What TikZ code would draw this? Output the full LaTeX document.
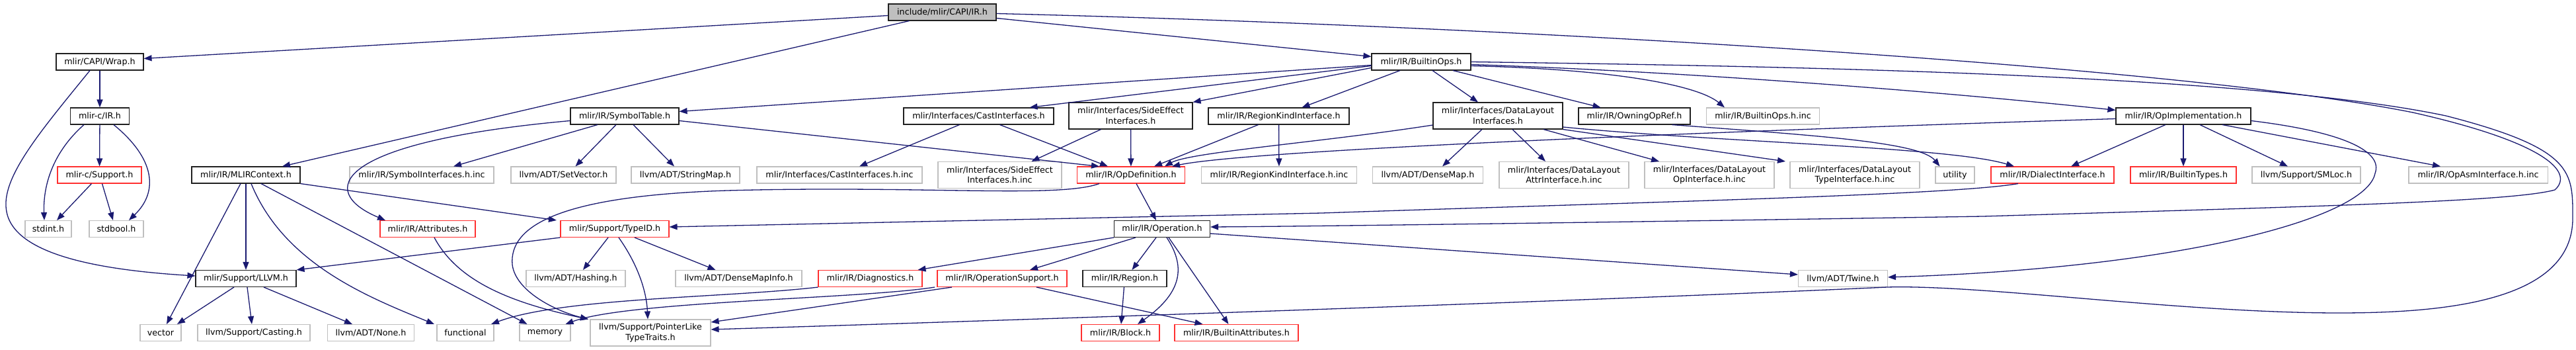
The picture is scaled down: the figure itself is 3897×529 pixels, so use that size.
\documentclass[tikz,border=0pt]{standalone}
\usepackage{fontspec}
\setmainfont{DejaVu Sans}
\usetikzlibrary{arrows.meta}
\definecolor{edgec}{HTML}{191970}
\definecolor{grayb}{HTML}{BFBFBF}
\definecolor{redb}{HTML}{FF3030}
\definecolor{rootf}{HTML}{BFBFBF}
\definecolor{blkb}{HTML}{202020}
\tikzset{
  nd/.style={draw, rectangle, line width=1.1pt, inner sep=0pt, minimum height=25pt, fill=white,
    font=\fontsize{12.7}{15.5}\selectfont, text=black, align=center},
  two/.style={minimum height=40pt},
  blk/.style={nd, draw=blkb},
  red/.style={nd, draw=redb},
  ext/.style={nd, draw=grayb},
  e/.style={draw=edgec, line width=1.3pt, -{Triangle[length=12pt,width=9pt]}, fill=none},
}
\begin{document}
\begin{tikzpicture}[x=1pt,y=-1pt]
\fill[white] (0,0) rectangle (3897,529);
\useasboundingbox (0,0) rectangle (3897,529);
% nodes
\node[blk, fill=rootf, minimum width=163pt] (root) at (1425.5,18.5) {include/mlir/CAPI/IR.h};
\node[blk, minimum width=132pt] (wrap) at (151,93.5) {mlir/CAPI/Wrap.h};
\node[blk, minimum width=150pt] (builtinops) at (2150,93.5) {mlir/IR/BuiltinOps.h};
\node[blk, minimum width=89pt] (cir) at (151,175.5) {mlir-c/IR.h};
\node[blk, minimum width=164pt] (symtab) at (945,175.5) {mlir/IR/SymbolTable.h};
\node[blk, minimum width=227pt] (castif) at (1480.5,175.5) {mlir/Interfaces/CastInterfaces.h};
\node[blk, two, minimum width=187pt] (sideeff) at (1710.5,175) {mlir/Interfaces/SideEffect\\Interfaces.h};
\node[blk, minimum width=213pt] (regkind) at (1934.5,175.5) {mlir/IR/RegionKindInterface.h};
\node[blk, two, minimum width=196pt] (dlif) at (2266,175) {mlir/Interfaces/DataLayout\\Interfaces.h};
\node[blk, minimum width=169pt] (owning) at (2472.5,175.5) {mlir/IR/OwningOpRef.h};
\node[ext, minimum width=171pt] (boinc) at (2667,175.5) {mlir/IR/BuiltinOps.h.inc};
\node[blk, minimum width=204pt] (opimpl) at (3303,175.5) {mlir/IR/OpImplementation.h};
\node[red, minimum width=127pt] (csupport) at (150.5,264.5) {mlir-c/Support.h};
\node[blk, minimum width=164pt] (mlirctx) at (372,264.5) {mlir/IR/MLIRContext.h};
\node[ext, minimum width=218pt] (symifinc) at (638,264.5) {mlir/IR/SymbolInterfaces.h.inc};
\node[ext, minimum width=159pt] (setvector) at (852.5,264.5) {llvm/ADT/SetVector.h};
\node[ext, minimum width=164pt] (stringmap) at (1037,264.5) {llvm/ADT/StringMap.h};
\node[ext, minimum width=250pt] (castinc) at (1270,264.5) {mlir/Interfaces/CastInterfaces.h.inc};
\node[ext, two, minimum width=187pt] (sideinc) at (1512.5,264.5) {mlir/Interfaces/SideEffect\\Interfaces.h.inc};
\node[red, minimum width=163pt] (opdef) at (1711,264.5) {mlir/IR/OpDefinition.h};
\node[ext, minimum width=235pt] (regkindinc) at (1935,264.5) {mlir/IR/RegionKindInterface.h.inc};
\node[ext, minimum width=167pt] (densemap) at (2160,264.5) {llvm/ADT/DenseMap.h};
\node[ext, two, minimum width=196pt] (dlattr) at (2366,264.5) {mlir/Interfaces/DataLayout\\AttrInterface.h.inc};
\node[ext, two, minimum width=196pt] (dlop) at (2586,264.5) {mlir/Interfaces/DataLayout\\OpInterface.h.inc};
\node[ext, two, minimum width=196pt] (dltype) at (2806,264.5) {mlir/Interfaces/DataLayout\\TypeInterface.h.inc};
\node[ext, minimum width=59pt] (utility) at (2957.5,264.5) {utility};
\node[red, minimum width=186pt] (dialectif) at (3105,264.5) {mlir/IR/DialectInterface.h};
\node[red, minimum width=160pt] (btypes) at (3303,264.5) {mlir/IR/BuiltinTypes.h};
\node[ext, minimum width=164pt] (smloc) at (3489,264.5) {llvm/Support/SMLoc.h};
\node[ext, minimum width=210pt] (opasm) at (3749,264.5) {mlir/IR/OpAsmInterface.h.inc};
\node[ext, minimum width=70pt] (stdint) at (73,346) {stdint.h};
\node[ext, minimum width=82pt] (stdbool) at (176,346) {stdbool.h};
\node[red, minimum width=144pt] (attrs) at (647,346) {mlir/IR/Attributes.h};
\node[red, minimum width=164pt] (typeid) at (930,346) {mlir/Support/TypeID.h};
\node[blk, minimum width=145pt] (operation) at (1758,346) {mlir/IR/Operation.h};
\node[blk, minimum width=152pt] (llvmh) at (372,421) {mlir/Support/LLVM.h};
\node[ext, minimum width=150pt] (hashing) at (871,421) {llvm/ADT/Hashing.h};
\node[ext, minimum width=191pt] (densemapinfo) at (1117.5,421) {llvm/ADT/DenseMapInfo.h};
\node[red, minimum width=157pt] (diag) at (1316.5,421) {mlir/IR/Diagnostics.h};
\node[red, minimum width=196pt] (opsupport) at (1516,421) {mlir/IR/OperationSupport.h};
\node[blk, minimum width=127pt] (region) at (1701.5,421) {mlir/IR/Region.h};
\node[ext, minimum width=135pt] (twine) at (2788,421) {llvm/ADT/Twine.h};
\node[ext, minimum width=62pt] (vector) at (243,503) {vector};
\node[ext, minimum width=170pt] (casting) at (384,503) {llvm/Support/Casting.h};
\node[ext, minimum width=131pt] (none) at (561,503) {llvm/ADT/None.h};
\node[ext, minimum width=86pt] (functional) at (704,503) {functional};
\node[ext, minimum width=77pt] (memory) at (824.5,503) {memory};
\node[ext, two, minimum width=182pt] (pointerlike) at (984,503) {llvm/Support/PointerLike\\TypeTraits.h};
\node[red, minimum width=118pt] (block) at (1695,503) {mlir/IR/Block.h};
\node[red, minimum width=187pt] (battrs) at (1870.5,503) {mlir/IR/BuiltinAttributes.h};
% edges from root
\draw[e] ([yshift=-5pt]root.west) -- ([yshift=5pt]wrap.east);
\draw[e] ([xshift=-50pt]root.south) -- ([xshift=55pt]mlirctx.north);
\draw[e] ([yshift=-9pt]root.east) -- ([yshift=8pt]builtinops.west);
\draw[e] ([yshift=-2pt]root.east) .. controls (2300,40) and (3300,100) .. (3650,170)
  .. controls (3850,215) and (3895,260) .. (3865,287)
  .. controls (3800,305) and (3500,312) .. (3000,327)
  .. controls (2500,335) and (2000,342) .. ([yshift=3pt]operation.east);
% wrap
\draw[e] (wrap) -- (cir);
\draw[e] ([xshift=-15pt]wrap.south) .. controls (60,200) and (0,270) .. (10,320)
  .. controls (22,385) and (150,408) .. ([yshift=4pt]llvmh.west);
% mlir-c/IR.h
\draw[e] (cir) -- (csupport);
\draw[e] ([xshift=-24pt]cir.south) .. controls (80,230) and (65,280) .. ([xshift=-6pt]stdint.north);
\draw[e] ([xshift=21pt]cir.south) .. controls (235,240) and (240,290) .. ([xshift=19pt]stdbool.north);
\draw[e] ([xshift=-12pt]csupport.south) -- ([xshift=13pt]stdint.north);
\draw[e] ([xshift=4pt]csupport.south) -- ([xshift=-5pt]stdbool.north);
% MLIRContext
\draw[e] (mlirctx) -- (llvmh);
\draw[e] ([xshift=-8pt]mlirctx.south) -- ([xshift=9pt]vector.north);
\draw[e] ([xshift=8pt]mlirctx.south) .. controls (430,400) and (560,450) .. ([xshift=-47pt]functional.north);
\draw[e] ([xshift=23pt]mlirctx.south) -- ([xshift=-27pt]memory.north);
\draw[e] (mlirctx.south east) -- ([xshift=-88pt]typeid.north);
% SymbolTable
\draw[e] ([yshift=-7pt]symtab.west) .. controls (500,215) and (480,290) .. ([xshift=-64pt]attrs.north);
\draw[e] ([xshift=-41pt]symtab.south) -- ([xshift=48pt]symifinc.north);
\draw[e] ([xshift=-13pt]symtab.south) -- ([xshift=18pt]setvector.north);
\draw[e] ([xshift=13pt]symtab.south) -- ([xshift=-17pt]stringmap.north);
\draw[e] ([yshift=-7pt]symtab.east) -- ([xshift=-48pt]opdef.north);
% BuiltinOps
\draw[e] ([yshift=-5pt]builtinops.west) -- ([yshift=7pt]symtab.east);
\draw[e] ([yshift=-6pt]builtinops.west) -- ([xshift=77pt]castif.north);
\draw[e] ([yshift=-9pt]builtinops.west) -- (sideeff.north east);
\draw[e] ([xshift=-32pt]builtinops.south) -- ([xshift=35pt]regkind.north);
\draw[e] ([xshift=17pt]builtinops.south) -- ([xshift=-30pt]dlif.north);
\draw[e] ([xshift=48pt]builtinops.south) -- ([xshift=-51pt]owning.north);
\draw[e] ([yshift=-6pt]builtinops.east) .. controls (2450,105) and (2570,130) .. ([xshift=-58pt]boinc.north);
\draw[e] ([yshift=-4pt]builtinops.east) .. controls (2600,110) and (3000,145) .. ([yshift=9pt]opimpl.west);
\draw[e] (builtinops.east) .. controls (2700,100) and (3400,112) .. (3700,175)
  .. controls (3895,225) and (3892,260) .. (3892,330)
  .. controls (3892,455) and (3700,473) .. (3538,473)
  .. controls (3300,473) and (3000,430) .. (2855,434)
  .. controls (2400,455) and (1500,485) .. ([yshift=5pt]pointerlike.east);
% OpImplementation
\draw[e] ([yshift=-4pt]opimpl.west) .. controls (2700,195) and (1900,225) .. ([xshift=62pt]opdef.north);
\draw[e] ([xshift=-27pt]opimpl.south) -- ([xshift=28pt]dialectif.north);
\draw[e] (opimpl) -- (btypes);
\draw[e] ([xshift=25pt]opimpl.south) -- ([xshift=-28pt]smloc.north);
\draw[e] ([xshift=59pt]opimpl.south) -- ([xshift=-57pt]opasm.north);
\draw[e] ([yshift=-7pt]opimpl.east) .. controls (3550,200) and (3605,230) .. (3593,262)
  .. controls (3580,330) and (3300,405) .. ([yshift=2pt]twine.east);
% Cast / SideEffect / RegionKind
\draw[e] ([xshift=-29pt]castif.south) -- ([xshift=30pt]castinc.north);
\draw[e] ([xshift=32pt]castif.south) -- ([xshift=-35pt]opdef.north);
\draw[e] ([xshift=-45pt]sideeff.south) -- ([xshift=48pt]sideinc.north);
\draw[e] (sideeff) -- (opdef);
\draw[e] ([xshift=-31pt]regkind.south) -- ([xshift=35pt]opdef.north);
\draw[e] (regkind) -- (regkindinc);
% DataLayout
\draw[e] ([yshift=-14pt]dlif.west) .. controls (2000,215) and (1800,230) .. ([xshift=51pt]opdef.north);
\draw[e] ([xshift=-24pt]dlif.south) -- ([xshift=22pt]densemap.north);
\draw[e] ([xshift=22pt]dlif.south) -- ([xshift=-28pt]dlattr.north);
\draw[e] ([xshift=69pt]dlif.south) -- ([xshift=-76pt]dlop.north);
\draw[e] (dlif.south east) -- ([xshift=-105pt]dltype.north);
\draw[e] ([yshift=-17pt]dlif.east) .. controls (2600,215) and (2950,222) .. ([xshift=-58pt]dialectif.north);
% OwningOpRef
\draw[e] ([xshift=57pt]owning.south) .. controls (2750,205) and (2905,215) .. ([xshift=-23pt]utility.north);
% OpDefinition
\draw[e] ([xshift=8pt]opdef.south) -- ([xshift=-9pt]operation.north);
\draw[e] ([xshift=-48pt]opdef.south) .. controls (1600,300) and (1400,280) .. (1100,288)
  .. controls (850,296) and (770,340) .. (775,400)
  .. controls (780,440) and (840,470) .. ([xshift=-94pt]pointerlike.north);
% Attributes
\draw[e] ([xshift=10pt]attrs.south) .. controls (690,420) and (760,455) .. ([xshift=-94pt]pointerlike.north);
% TypeID
\draw[e] (typeid.south west) -- (llvmh.north east);
\draw[e] ([xshift=-10pt]typeid.south) -- ([xshift=11pt]hashing.north);
\draw[e] ([xshift=6pt]typeid.south) .. controls (965,400) and (978,440) .. ([xshift=-4pt]pointerlike.north);
\draw[e] ([xshift=30pt]typeid.south) -- ([xshift=-35pt]densemapinfo.north);
% DialectInterface
\draw[e] ([xshift=-52pt]dialectif.south) .. controls (2950,295) and (2500,305) .. (2000,322)
  -- ([yshift=3pt]typeid.east);
% Operation
\draw[e] (operation.south west) -- ([xshift=72pt]diag.north);
\draw[e] ([xshift=-40pt]operation.south) -- ([xshift=42pt]opsupport.north);
\draw[e] ([xshift=-9pt]operation.south) -- ([xshift=11pt]region.north);
\draw[e] ([xshift=7pt]operation.south) .. controls (1792,400) and (1792,440) .. ([xshift=26pt]block.north);
\draw[e] ([xshift=10pt]operation.south) -- ([xshift=-12pt]battrs.north);
\draw[e] ([yshift=-7pt]operation.east) -- ([yshift=6pt]twine.west);
% Region
\draw[e] (region) -- (block);
% OperationSupport
\draw[e] ([xshift=52pt]opsupport.south) -- ([xshift=-51pt]battrs.north);
\draw[e] ([xshift=-76pt]opsupport.south) -- ([yshift=16pt]pointerlike.east);
\draw[e] ([xshift=-102pt]opsupport.south) .. controls (1300,452) and (950,455) .. ([xshift=31pt]memory.north);
% Diagnostics
\draw[e] (diag.south west) .. controls (1100,450) and (850,450) .. ([xshift=39pt]functional.north);
% LLVM.h
\draw[e] ([xshift=-18pt]llvmh.south) -- ([xshift=25pt]vector.north);
\draw[e] ([xshift=2pt]llvmh.south) -- ([xshift=-3pt]casting.north);
\draw[e] ([xshift=27pt]llvmh.south) -- ([xshift=-28pt]none.north);
\end{tikzpicture}
\end{document}
